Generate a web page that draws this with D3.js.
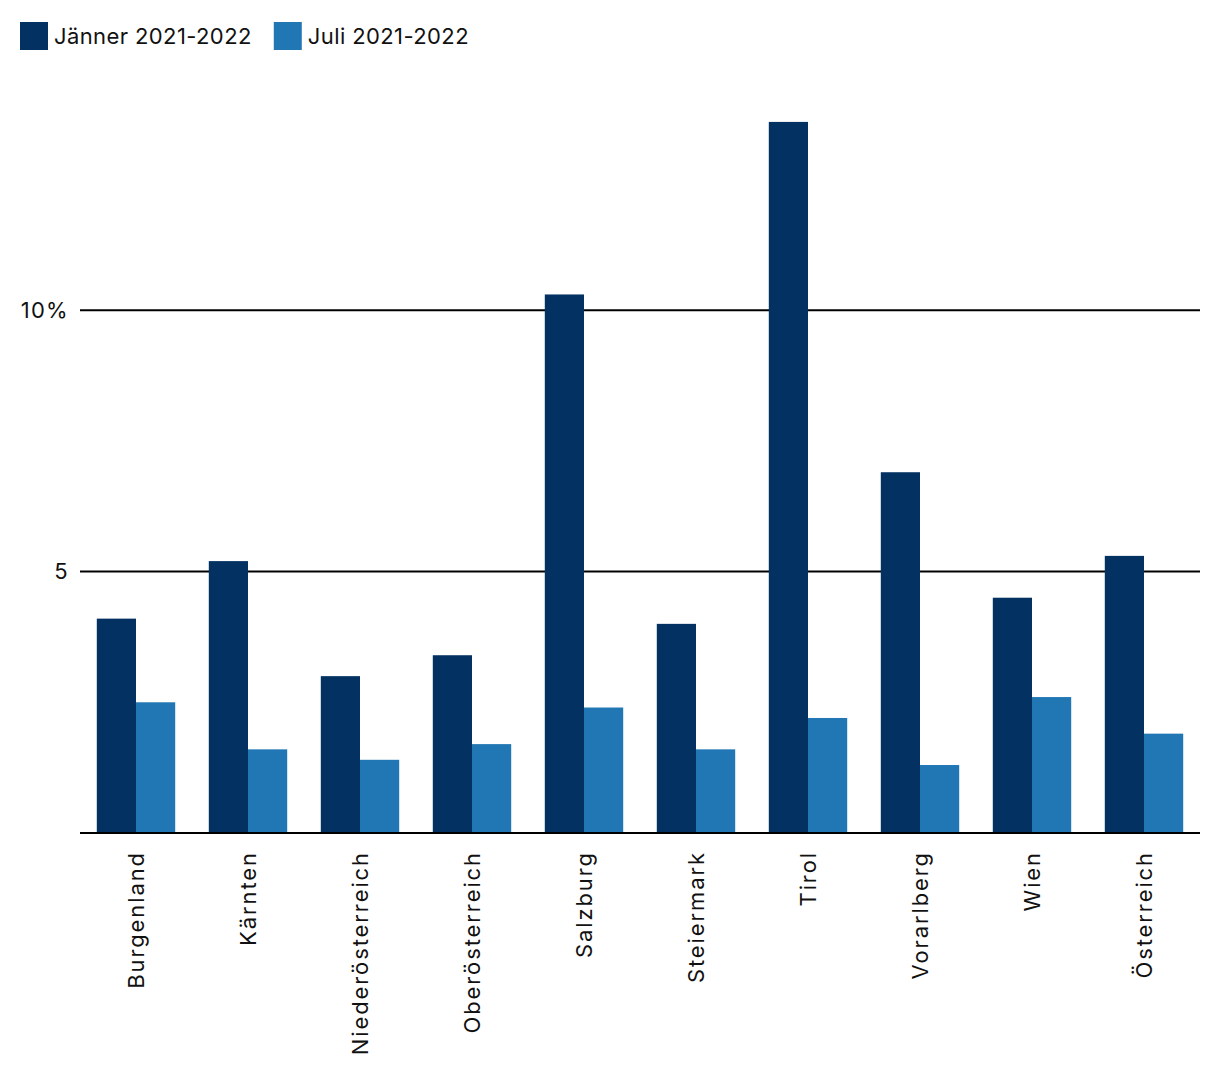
<!DOCTYPE html>
<html><head><meta charset="utf-8">
<script src="https://cdn.jsdelivr.net/npm/d3@7"></script>
<style>body{margin:0;background:#fff}svg{display:block}text{font-family:Inter,"Noto Sans",sans-serif;fill:#111}</style>
</head><body><svg id="c" width="1220" height="1086"></svg>
<script>
const categories = ["Burgenland","Kärnten","Niederösterreich","Oberösterreich","Salzburg","Steiermark","Tirol","Vorarlberg","Wien","Österreich"];
const seriesNames = ["Jänner 2021-2022","Juli 2021-2022"];
const januar = [4.1,5.2,3.0,3.4,10.3,4.0,13.6,6.9,4.5,5.3];
const juli = [2.5,1.6,1.4,1.7,2.4,1.6,2.2,1.3,2.6,1.9];
const tickValues = [5,10];
const tickLabels = ["5","10%"];
const colors = ["#023162","#2077b4"];

const svg = d3.select("#c");
const x = d3.scaleBand().domain(categories).range([80,1200]).paddingInner(0.3).paddingOuter(0.15);
const xs = d3.scaleBand().domain([0,1]).range([0,x.bandwidth()]);
const y = d3.scaleLinear().domain([0,14]).range([833,101]);

// gridlines
svg.append("g").selectAll("line").data(tickValues).join("line")
  .attr("x1",80).attr("x2",1200).attr("y1",d=>y(d)).attr("y2",d=>y(d))
  .attr("stroke","#000").attr("stroke-width",2);
svg.append("g").selectAll("text").data(tickValues).join("text")
  .attr("x",69).attr("y",d=>y(d)).attr("text-anchor","end").attr("dy","0.36em")
  .attr("font-size",22).attr("letter-spacing",1.3).text((d,i)=>tickLabels[i]);

const series=[januar,juli];
series.forEach((vals,si)=>{
  svg.append("g").selectAll("rect").data(categories).join("rect")
    .attr("x",d=>x(d)+xs(si)).attr("width",xs.bandwidth())
    .attr("y",(d,i)=>y(vals[i])).attr("height",(d,i)=>y(0)-y(vals[i]))
    .attr("fill",colors[si]);
});
// baseline
svg.append("line").attr("x1",80).attr("x2",1200).attr("y1",y(0)).attr("y2",y(0)).attr("stroke","#000").attr("stroke-width",2);

// x labels
svg.append("g").selectAll("text").data(categories).join("text")
  .attr("transform",d=>`translate(${x(d)+x.bandwidth()/2},851) rotate(-90)`)
  .attr("text-anchor","end").attr("dy","0.36em").attr("font-size",22).attr("letter-spacing",1.9).text(d=>d);

// legend
const lg = svg.append("g");
let lx=20;
seriesNames.forEach((n,i)=>{
  const g=lg.append("g").attr("transform",`translate(${lx},22)`);
  g.append("rect").attr("width",28).attr("height",28).attr("fill",colors[i]);
  const t=g.append("text").attr("x",34).attr("y",14).attr("dy","0.36em").attr("font-size",22).attr("letter-spacing",0.4).text(n);
  lx += 34 + t.node().getComputedTextLength() + 22;
});
</script></body></html>
